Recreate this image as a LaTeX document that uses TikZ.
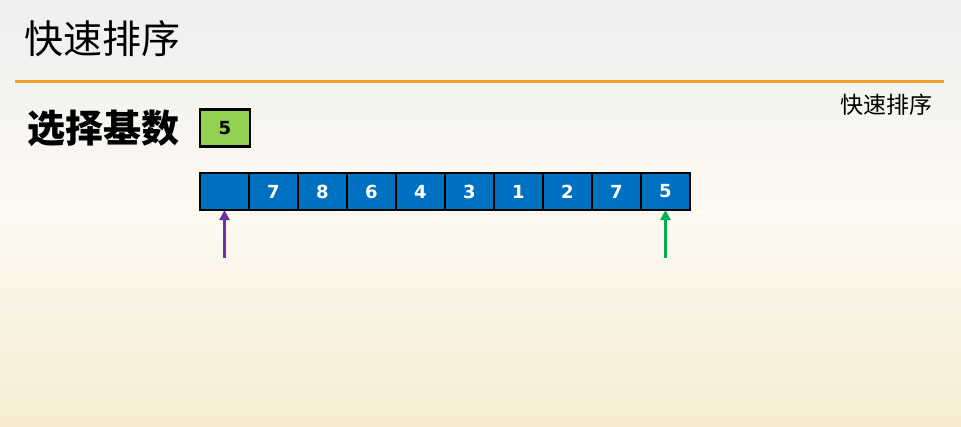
\documentclass[tikz,border=0pt]{standalone}
\usepackage{fontspec}
\usepackage{xcolor}
\usepackage{tikz}
\setmainfont{DejaVu Sans}
\newfontfamily\cjk{Noto Sans CJK SC}
\usetikzlibrary{positioning,calc,arrows.meta}

\definecolor{barorange}{HTML}{F5A02A}
\definecolor{cellblue}{HTML}{0070C0}
\definecolor{pivotgreen}{HTML}{92D050}
\definecolor{leftpurple}{HTML}{7030A0}
\definecolor{rightgreen}{HTML}{00B050}
\definecolor{bgtop}{HTML}{EFEFEF}
\definecolor{bgbottom}{HTML}{F7ECD2}

\tikzset{
    cell/.style={draw=black, line width=2.2pt, fill=cellblue, text=white,
        minimum width=49pt, minimum height=37pt, inner sep=0pt, outer sep=0pt,
        font=\fontsize{18}{18}\selectfont\bfseries},
    pivotbox/.style={cell, fill=pivotgreen, text=black, minimum width=50pt},
    pointer/.style={line width=3pt, -{Triangle[length=10pt,width=10pt]}}
}

\begin{document}
\begin{tikzpicture}[x=1pt,y=-1pt]
    % Background
    \shade[top color=bgtop, bottom color=bgbottom, middle color=white!70!bgbottom]
        (0,0) rectangle (961,426);
    \useasboundingbox (0,0) rectangle (961,426);

    % Title
    \node[anchor=west, inner sep=0pt] (title) at (24,39)
        {\cjk\fontsize{39}{39}\selectfont 快速排序};
    \draw[barorange, line width=3pt] (15,81) -- (944,81);
    \node[anchor=east, inner sep=0pt] (tag) at (933,105)
        {\cjk\fontsize{23}{23}\selectfont 快速排序};

    % Pivot
    \node[anchor=west, inner sep=0pt] (choose) at (27,128)
        {\cjk\fontsize{38}{38}\selectfont\bfseries 选择基数};
    \node[pivotbox] (pivot) at (225,128) {5};

    % Array
    \node[cell] (c0) at (224.5,191.5) {};
    \foreach \v [count=\i from 1, remember=\i as \j (initially 0)] in {7,8,6,4,3,1,2,7,5} {
        \node[cell, right=0pt of c\j] (c\i) {\v};
    }

    % Pointers
    \coordinate (lowstart) at ($(c0.south)+(0,48)$);
    \coordinate (highstart) at ($(c9.south)+(0,48)$);
    \draw[pointer, leftpurple] (lowstart) -- (c0.south);
    \draw[pointer, rightgreen] (highstart) -- (c9.south);
\end{tikzpicture}
\end{document}
